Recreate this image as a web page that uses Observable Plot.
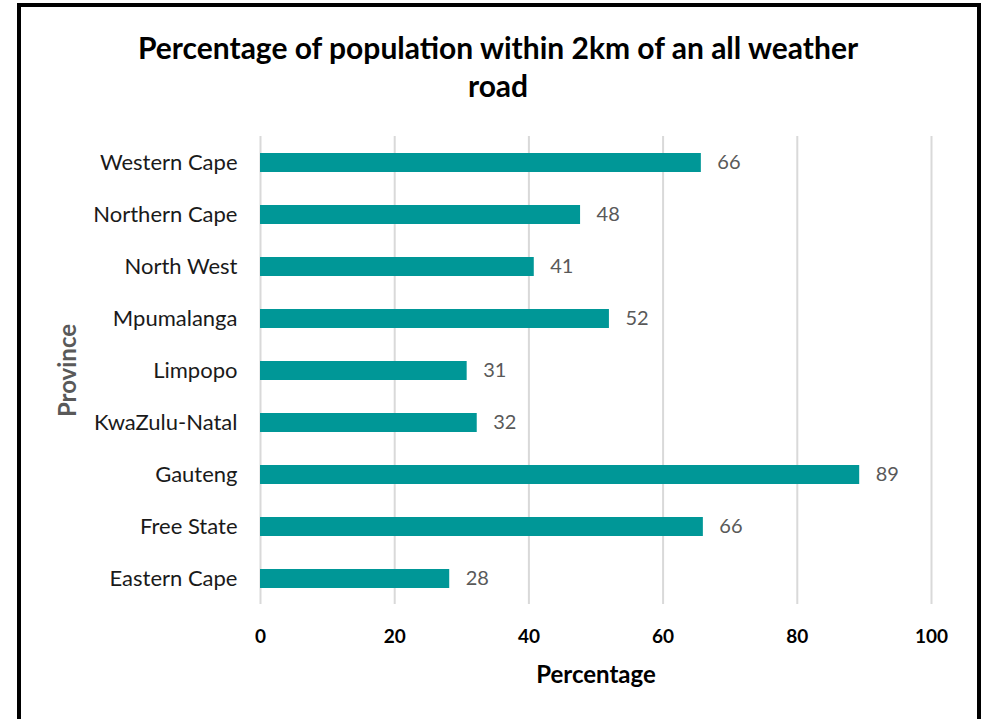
<!DOCTYPE html>
<html><head><meta charset="utf-8">
<script src="https://cdn.jsdelivr.net/npm/d3@7"></script>
<script src="https://cdn.jsdelivr.net/npm/@observablehq/plot@0.6"></script>
<style>
html,body{margin:0;padding:0;background:#fff;}
#wrap{position:relative;width:992px;height:719px;overflow:hidden;font-family:Lato,"Open Sans",sans-serif;}
#border{position:absolute;left:17px;top:3px;width:964px;height:740px;border:4px solid #000;box-sizing:border-box;}
#title{position:absolute;left:0;width:996px;top:28px;text-align:center;font-weight:bold;font-size:30px;line-height:38px;color:#000;}
#chart{position:absolute;left:0;top:0;}
</style></head>
<body>
<div id="wrap"><div id="border"></div>
<div id="title">Percentage of population within 2km of an all weather<br>road</div>
<div id="chart"></div></div>
<script>
const provinces = ["Western Cape","Northern Cape","North West","Mpumalanga","Limpopo","KwaZulu-Natal","Gauteng","Free State","Eastern Cape"];
const values = [65.7, 47.7, 40.8, 52.0, 30.8, 32.3, 89.3, 66.0, 28.2];
const labels = [66, 48, 41, 52, 31, 32, 89, 66, 28];
const xTicks = [0, 20, 40, 60, 80, 100];

const data = provinces.map((p, i) => ({province: p, value: values[i], label: labels[i]}));

const plot = Plot.plot({
  width: 992, height: 719,
  marginLeft: 260, marginRight: 61, marginTop: 136, marginBottom: 115,
  style: {fontFamily: "Lato, 'Open Sans', sans-serif", background: "transparent"},
  x: {domain: [0, 100], ticks: xTicks, label: null},
  y: {domain: provinces, paddingInner: 0.64, paddingOuter: 0.32, label: null},
  marks: [
    Plot.gridX(xTicks, {stroke: "#d9d9d9", strokeOpacity: 1, strokeWidth: 2}),
    Plot.barX(data, {y: "province", x: "value", fill: "#009797"}),
    Plot.text(data, {y: "province", x: "value", text: d => String(d.label), textAnchor: "start", dx: 16, fill: "#595959", fontSize: 20}),
    Plot.axisX(xTicks, {tickSize: 0, tickPadding: 25, fontSize: 19, fontWeight: "bold", fill: "#000", label: null}),
    Plot.axisY({tickSize: 0, tickPadding: 23, fontSize: 22, fill: "#1a1a1a", label: null}),
    Plot.text(["Percentage"], {frameAnchor: "bottom", lineAnchor: "middle", textAnchor: "middle", dy: 71, fontSize: 24, fontWeight: "bold", fill: "#000"}),
    Plot.text(["Province"], {frameAnchor: "left", lineAnchor: "middle", textAnchor: "middle", dx: -192, rotate: -90, fontSize: 24, fontWeight: "bold", fill: "#595959"})
  ]
});
document.getElementById("chart").appendChild(plot);
</script>
</body></html>
